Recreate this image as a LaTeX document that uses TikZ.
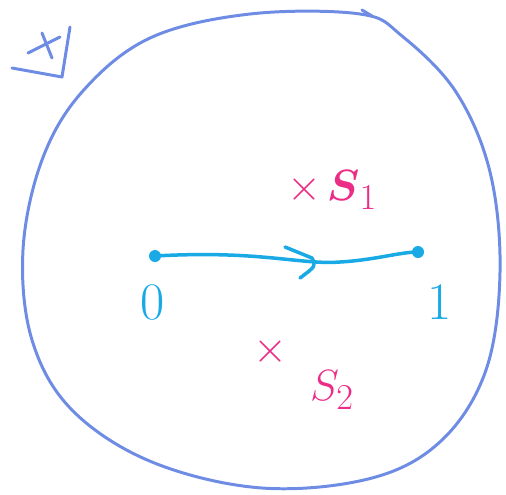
\documentclass[tikz,border=0pt]{standalone}
\usepackage{amsmath}
\usepackage{amssymb}
\usepackage{tikz}
\usetikzlibrary{arrows.meta,positioning,calc}

\definecolor{penblue}{RGB}{110,140,228}
\definecolor{pencyan}{RGB}{25,170,230}
\definecolor{penpink}{RGB}{236,45,135}

\begin{document}
\begin{tikzpicture}[x=0.02cm,y=-0.02cm,
        pen/.style={line width=1.7pt,line cap=round,line join=round},
        pinklbl/.style={font=\fontsize{28}{28}\selectfont,text=penpink,inner sep=0pt},
        cross/.style={font=\fontsize{30}{30}\selectfont,text=penpink,inner sep=0pt},
        endlbl/.style={font=\fontsize{30}{30}\selectfont,text=pencyan,inner sep=0pt}]

                % Page size
                \useasboundingbox (0,0) rectangle (506,494);

                % ---- region boundary ----
                \draw[pen,penblue] plot[smooth cycle,tension=0.6] coordinates {
                    (360,14) (250,14) (150,38) (82,92) (42,160) (23,250)
                    (32,340) (72,410) (152,462) (262,488) (372,478)
                    (442,440) (486,370) (500,272) (490,172) (456,92) (402,36)};
                \draw[pen,penblue] (362,10) -- (372,16);

                % ---- plane symbol, top left ----
                \draw[pen,penblue] (42,33) -- (52,58);
                \draw[pen,penblue] (28,53) -- (60,37);
                \draw[pen,penblue] (12,68) -- (62,77) -- (70,27);

                % ---- end points and path ----
                \fill[pencyan] (155,256) circle (6) coordinate (p0);
                \fill[pencyan] (418,252) circle (6) coordinate (p1);
                \draw[pen,pencyan,line width=2pt] (p0) .. controls (260,250) and (300,265) .. (340,262)
                    .. controls (375,260) and (400,252) .. (p1);
                \draw[pen,pencyan,line width=2pt] (285,247) -- (312,258) .. controls (316,266) .. (300,278);

                \node[endlbl] (lbl0) at (153,302) {0};
                \node[endlbl] (lbl1) at (440,302) {1};

                % ---- singular points ----
                \node[cross] (x1) at (304,190) {$\times$};
                \node[pinklbl,right=3pt of x1] (s1) {$\boldsymbol{S}_1$};
                \node[cross] (x2) at (270,352) {$\times$};
                \node[pinklbl] (s2) at (332,390) {$S_2$};

\end{tikzpicture}
\end{document}
